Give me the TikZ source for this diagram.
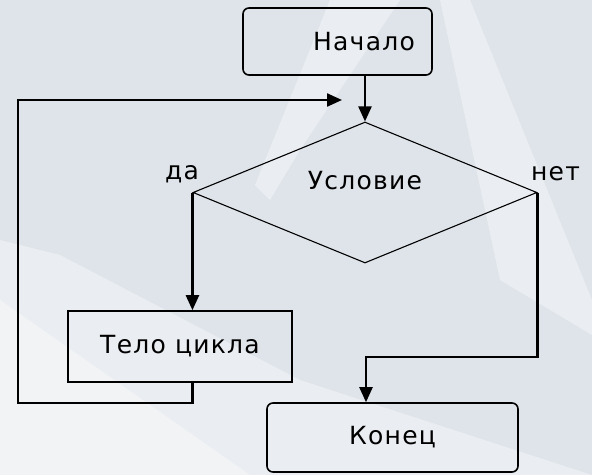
\documentclass[tikz,border=0pt]{standalone}
\usepackage{fontspec}
\newfontfamily\chartfont[LetterSpace=5]{DejaVu Sans}
\usetikzlibrary{positioning, shapes.geometric, arrows.meta}
\definecolor{bgblue}{HTML}{DFE4EA}

\begin{document}
\begin{tikzpicture}[x=1pt, y=-1pt, font=\chartfont\fontsize{25}{29}\selectfont]

  \tikzstyle{module}=[draw, line width=1.6pt, inner sep=0pt]
  \tikzstyle{terminal}=[module, rounded corners=6pt]
  \tikzstyle{process}=[module]
  \tikzstyle{decision}=[draw, diamond, line width=1.1pt, inner sep=0pt, aspect=2.44]
  \tikzstyle{flow}=[line width=2.3pt, -{Triangle[length=15pt, width=13pt]}]
  \tikzstyle{streak}=[fill=white, opacity=0.35]

  % background
  \fill [bgblue] (0,0) rectangle (592,475);
  \useasboundingbox (0,0) rectangle (592,475);
  \fill [streak] (330,0) -- (400,0) -- (300,150) -- (270,200) -- (255,185) -- cycle;
  \fill [streak] (440,0) -- (470,0) -- (592,300) -- (592,335) -- (500,280) -- cycle;
  \fill [streak] (0,240) -- (60,255) -- (300,380) -- (592,475) -- (0,475) -- cycle;
  \fill [streak] (0,300) -- (0,475) -- (250,475) -- cycle;

  \node [terminal, minimum width=189pt, minimum height=67pt] (start) at (337.5,41.5) {\hspace*{53pt}Начало};
  \node [decision, minimum width=344pt, minimum height=141pt] (cond) at (365,192.5) {};
  \node (cond-text) at (365,181) {Условие};
  \node [left = -10pt of cond.west, yshift=18pt] (yes) {да};
  \node [right = -10pt of cond.east, yshift=19pt] (no) {нет};
  \node [process, minimum width=224pt, minimum height=71pt] (body) at (180,346.5) {Тело цикла};
  \node [terminal, minimum width=251pt, minimum height=69pt] (end) at (392.5,437.5) {Конец};

  \coordinate (back) at (342,100);
  \coordinate (loop-left) at (18,403);
  \coordinate (no-turn) at (366,357);

  \draw [flow] (start.south -| cond.north) -- (cond.north);
  \draw [flow] (cond.west) -- (cond.west |- body.north);
  \draw [flow] (cond.east) |- (no-turn) -- (no-turn |- end.north);
  \draw [flow] (cond.west |- body.south) |- (loop-left) |- (back);
\end{tikzpicture}
\end{document}
